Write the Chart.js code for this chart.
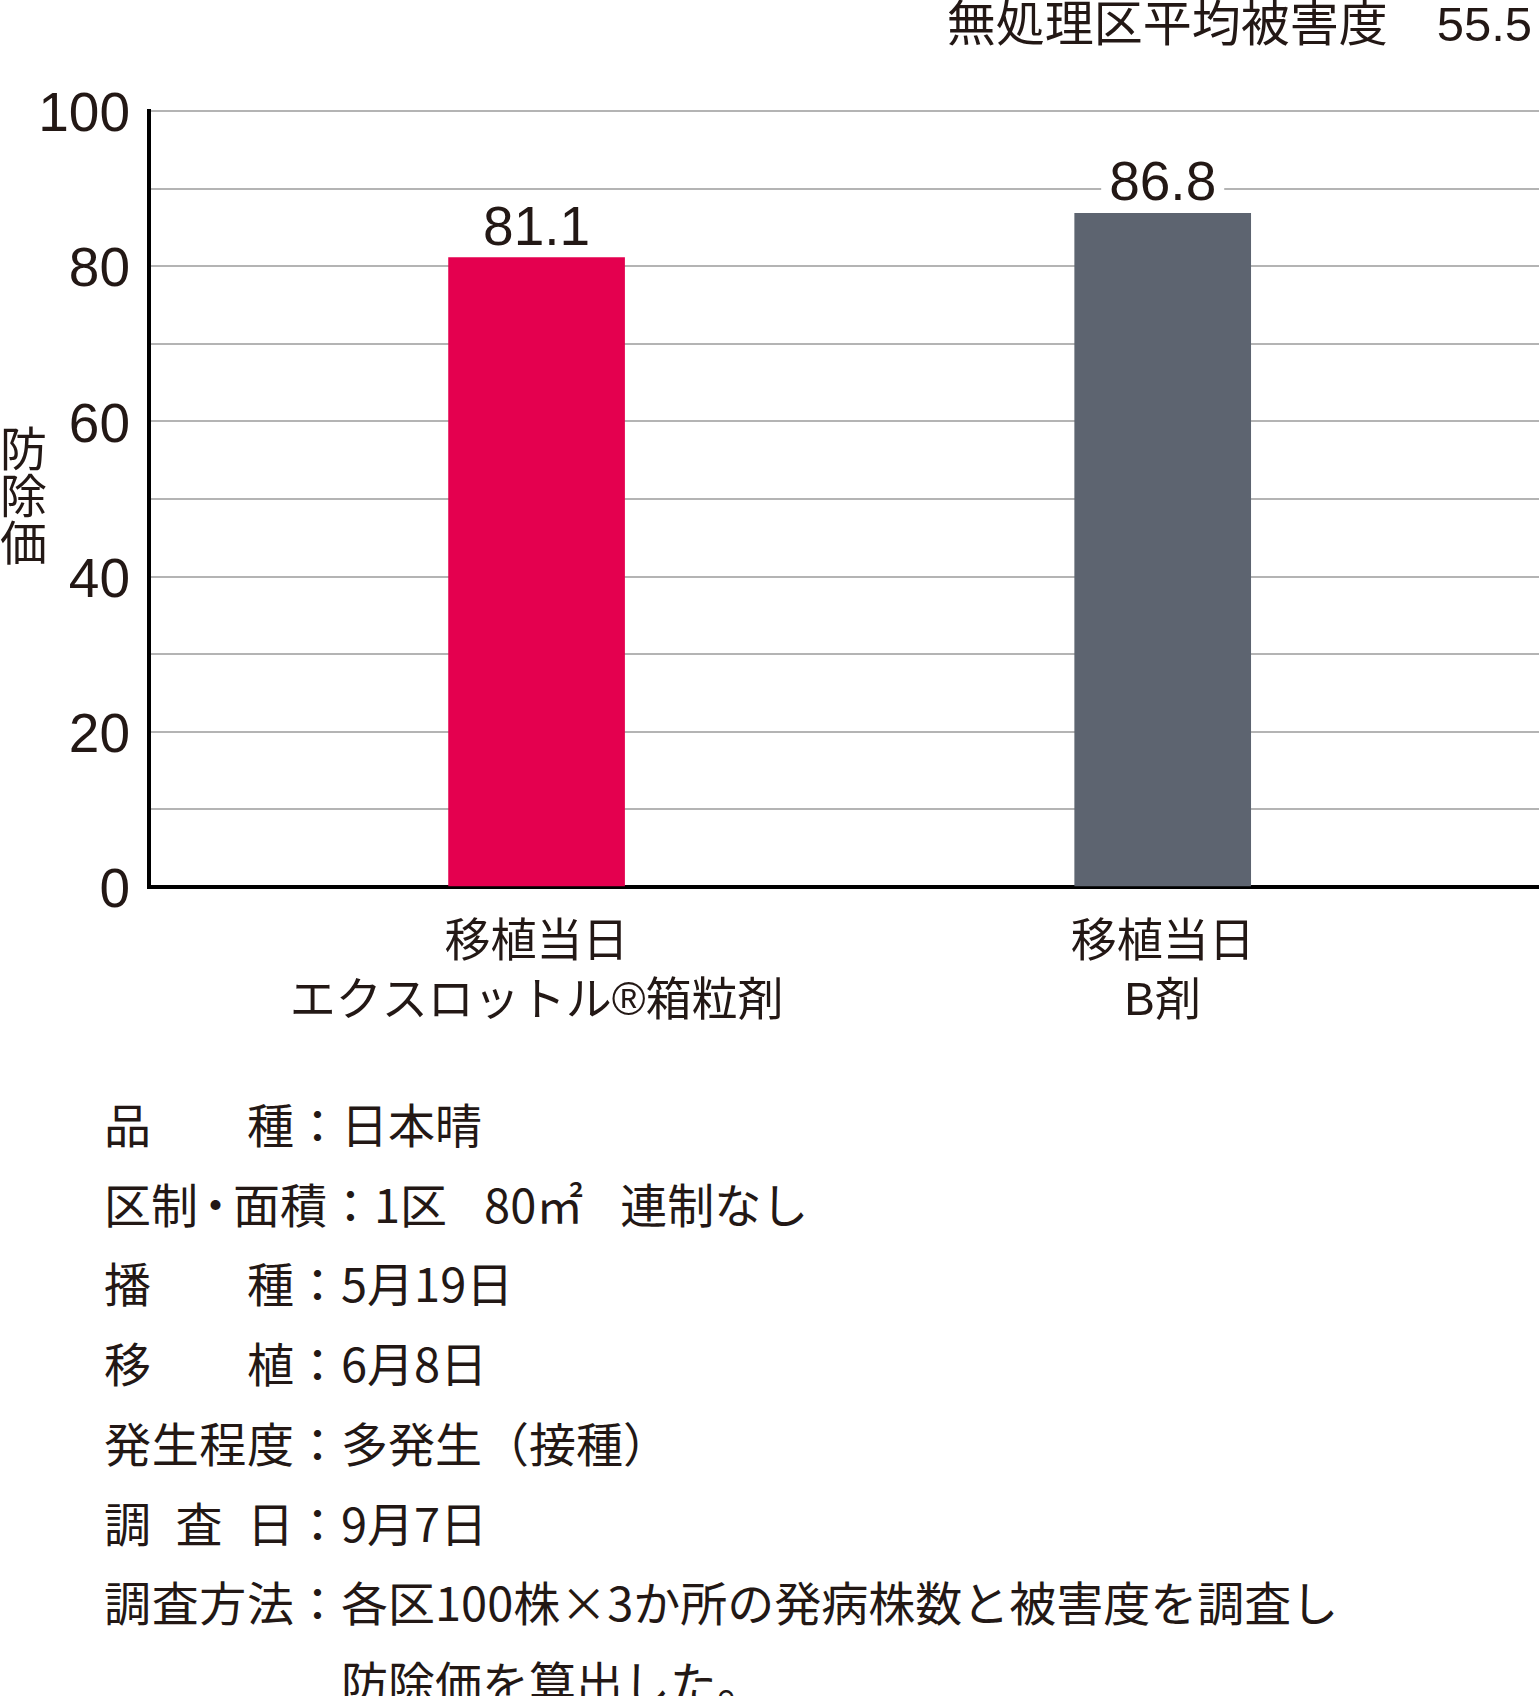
<!DOCTYPE html>
<html lang="ja">
<head>
<meta charset="utf-8">
<title>防除価</title>
<script src="https://cdn.jsdelivr.net/npm/chart.js@4.4.1/dist/chart.umd.min.js"></script>
<style>
    html, body { margin: 0; padding: 0; background: #fff; }
    body {
        width: 1539px; height: 1696px; position: relative; overflow: hidden;
        color: #231815; font-family: "Noto Sans CJK JP", sans-serif;
    }
    #wrap { position: absolute; left: 0; top: 0; width: 1539px; height: 1060px; }
    #title {
        position: absolute; top: 0; right: 7px; white-space: nowrap;
        font-family: "Liberation Sans", "Noto Sans CJK JP", sans-serif;
        font-size: 49px; line-height: 48px;
    }
    #ytitle {
        position: absolute; left: 0; top: 425px;
        writing-mode: vertical-rl; font-size: 47px; line-height: 47px;
    }
    #notes { position: absolute; left: 104px; top: 1083px; font-size: 47px; line-height: 79.7px; }
    .row { display: flex; white-space: nowrap; }
    .lab { display: flex; justify-content: space-between; width: 190px; }
    .lab.wide { width: auto; display: block; }
    .dot { margin: 0 -6px; }
    .sp { letter-spacing: -10px; }
</style>
</head>
<body>
<div id="wrap"><canvas id="chart" width="1539" height="1060"></canvas></div>
<div id="title">無処理区平均被害度　55.5</div>
<div id="ytitle">防除価</div>
<div id="notes"></div>

<script>
// chart data
const categories = [['移植当日', 'エクスロットル®箱粒剤'], ['移植当日', 'B剤']];
const values = [81.1, 86.8];
const barColors = ['#e4004f', '#5d6470'];

// notes under the chart
const noteLabels = ['品種', '区制・面積', '播種', '移植', '発生程度', '調査日', '調査方法'];
const noteValues = [
    ['日本晴'],
    ['1区　80㎡　連制なし'],
    ['5月19日'],
    ['6月8日'],
    ['多発生（接種）'],
    ['9月7日'],
    ['各区100株×3か所の発病株数と被害度を調査し', '防除価を算出した。']
];

const notes = document.getElementById('notes');
noteLabels.forEach((label, i) => {
    const row = document.createElement('div');
    row.className = 'row';
    const lab = document.createElement('div');
    lab.className = label.length > 4 ? 'lab wide' : 'lab';
    label.split('').forEach(ch => {
        const s = document.createElement('span');
        s.textContent = ch;
        if (ch === '・') s.className = 'dot';
        lab.appendChild(s);
    });
    const colon = document.createElement('div');
    colon.textContent = '：';
    const val = document.createElement('div');
    val.innerHTML = noteValues[i]
        .map(line => line.replace(/　/g, '<span class="sp">　</span>'))
        .join('<br>');
    row.appendChild(lab);
    row.appendChild(colon);
    row.appendChild(val);
    notes.appendChild(row);
});

const textColor = '#231815';
const latinFont = '"Liberation Sans", Arial, sans-serif';

// value on top of each bar, on a white box so the grid line is cut
const valueLabels = {
    id: 'valueLabels',
    afterDatasetsDraw(chart) {
        const ctx = chart.ctx;
        const meta = chart.getDatasetMeta(0);
        ctx.save();
        ctx.font = '55px ' + latinFont;
        ctx.textAlign = 'center';
        ctx.textBaseline = 'alphabetic';
        meta.data.forEach((bar, i) => {
            const txt = values[i].toFixed(1);
            const w = ctx.measureText(txt).width;
            const base = bar.y - 13;
            ctx.fillStyle = '#fff';
            ctx.fillRect(bar.x - w / 2 - 8, base - 48, w + 16, 54);
            ctx.fillStyle = textColor;
            ctx.fillText(txt, bar.x, base);
        });
        ctx.restore();
    }
};

new Chart(document.getElementById('chart'), {
    type: 'bar',
    data: {
        datasets: [{
            data: values.map((v, i) => ({ x: i + 1, y: v })),
            backgroundColor: barColors,
            barThickness: 176
        }]
    },
    options: {
        responsive: false,
        animation: false,
        layout: { padding: { top: 111, left: 0, right: 0, bottom: 0 } },
        plugins: {
            legend: { display: false },
            tooltip: { enabled: false }
        },
        scales: {
            x: {
                type: 'linear',
                offset: false,
                min: 0.381,
                max: 2.601,
                grid: { display: false, offset: false },
                border: { color: '#000', width: 4 },
                afterBuildTicks: scale => {
                    scale.ticks = categories.map((c, i) => ({ value: i + 1 }));
                },
                afterFit: scale => { scale.height = 1060 - 887; },
                ticks: {
                    autoSkip: false,
                    maxRotation: 0,
                    padding: 18,
                    color: textColor,
                    font: { family: latinFont + ', "Noto Sans CJK JP"', size: 46, lineHeight: 1.3 },
                    callback: v => categories[v - 1]
                }
            },
            y: {
                min: 0,
                max: 100,
                afterFit: scale => { scale.width = 149; },
                grid: {
                    drawTicks: false,
                    lineWidth: 2,
                    color: ctx => ctx.tick.value === 0 ? 'rgba(0,0,0,0)' : '#b4b4b4'
                },
                border: { color: '#000', width: 4 },
                ticks: {
                    stepSize: 10,
                    padding: 19,
                    labelOffset: 5,
                    color: textColor,
                    font: { family: latinFont, size: 55 },
                    callback: v => v % 20 === 0 ? v : ''
                }
            }
        }
    },
    plugins: [valueLabels]
});
</script>
</body>
</html>
